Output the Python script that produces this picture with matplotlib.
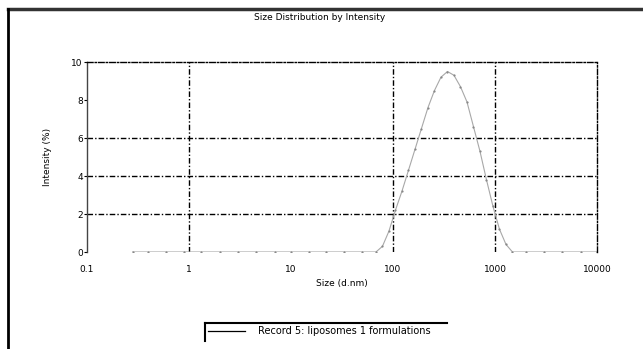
import matplotlib
matplotlib.use("Agg")
import matplotlib.pyplot as plt
from matplotlib.lines import Line2D

title = "Size Distribution by Intensity"
x_label = "Size (d.nm)"
y_label = "Intensity (%)"
legend_label = "Record 5: liposomes 1 formulations"

sizes = [0.28, 0.4, 0.6, 0.9, 1.3, 2.0, 3.0, 4.5, 7.0, 10.0, 15.0, 22.0, 33.0, 50.0,
         68.06, 78.82, 91.28, 105.7, 122.4, 141.8, 164.2, 190.1, 220.2, 255.0, 295.3,
         342.0, 396.1, 458.7, 531.2, 615.1, 712.4, 825.0, 955.4, 1106, 1281, 1484,
         2000, 3000, 4500, 7000, 10000]
intensity = [0, 0, 0, 0, 0, 0, 0, 0, 0, 0, 0, 0, 0, 0,
             0, 0.3, 1.1, 2.2, 3.2, 4.3, 5.4, 6.5, 7.6, 8.5, 9.2,
             9.5, 9.3, 8.7, 7.9, 6.6, 5.3, 3.8, 2.4, 1.2, 0.4, 0,
             0, 0, 0, 0, 0]

x_ticks = [0.1, 1, 10, 100, 1000, 10000]
x_tick_labels = ["0.1", "1", "10", "100", "1000", "10000"]
y_ticks = [0, 2, 4, 6, 8, 10]
x_grid = [1, 100, 1000]
y_grid = [2, 4, 6]

fig = plt.figure(figsize=(6.43, 3.49), dpi=100)
ax = fig.add_axes([87/643, 1-252/349, (597-87)/643, (252-62)/349])

ax.plot(sizes, intensity, color="#a8a8a8", lw=0.8, marker="o", ms=1.6,
        markerfacecolor="#888888", markeredgewidth=0)
ax.set_xscale("log")
ax.set_xlim(0.1, 10000)
ax.set_ylim(0, 10)

for xv in x_grid:
    ax.axvline(xv, color="black", lw=1.0, ls="-.", dashes=(4, 1.5, 1, 1.5), zorder=1)
for yv in y_grid:
    ax.axhline(yv, color="black", lw=1.0, ls="-.", dashes=(4, 1.5, 1, 1.5), zorder=1)

for side in ("top", "right"):
    ax.spines[side].set_linestyle((0, (4, 1.5, 1, 1.5)))
    ax.spines[side].set_linewidth(1.0)
ax.spines["bottom"].set_visible(False)
ax.spines["left"].set_color("#444444")
ax.spines["left"].set_linewidth(1.0)

ax.set_xticks(x_ticks)
ax.set_xticklabels(x_tick_labels)
ax.minorticks_off()
ax.set_yticks(y_ticks)
ax.set_yticklabels([str(v) for v in y_ticks])
ax.tick_params(axis="x", length=0, pad=9, labelsize=6.5)
ax.tick_params(axis="y", length=2, pad=1, labelsize=6.5)

ax.set_xlabel(x_label, fontsize=6.5, labelpad=4)
ax.set_ylabel(y_label, fontsize=6.5, labelpad=14)
fig.text(320/643, 1-17/349, title, ha="center", va="center", fontsize=6.5)

# outer frame (left and top)
fig.add_artist(Line2D([8/643, 1.0], [1-9/349, 1-9/349], color="#333333", lw=2.5))
fig.add_artist(Line2D([8/643, 8/643], [0, 1-9/349], color="black", lw=2.0))

# legend box (left and top borders)
fig.add_artist(Line2D([205/643, 447/643], [1-323/349, 1-323/349], color="black", lw=1.5))
fig.add_artist(Line2D([205/643, 205/643], [1-341/349, 1-323/349], color="black", lw=1.5))
fig.add_artist(Line2D([208/643, 245/643], [1-331/349, 1-331/349], color="black", lw=0.9))
fig.text(258/643, 1-331/349, legend_label, ha="left", va="center", fontsize=7)

fig.savefig("out.png", dpi=100, facecolor="white")
